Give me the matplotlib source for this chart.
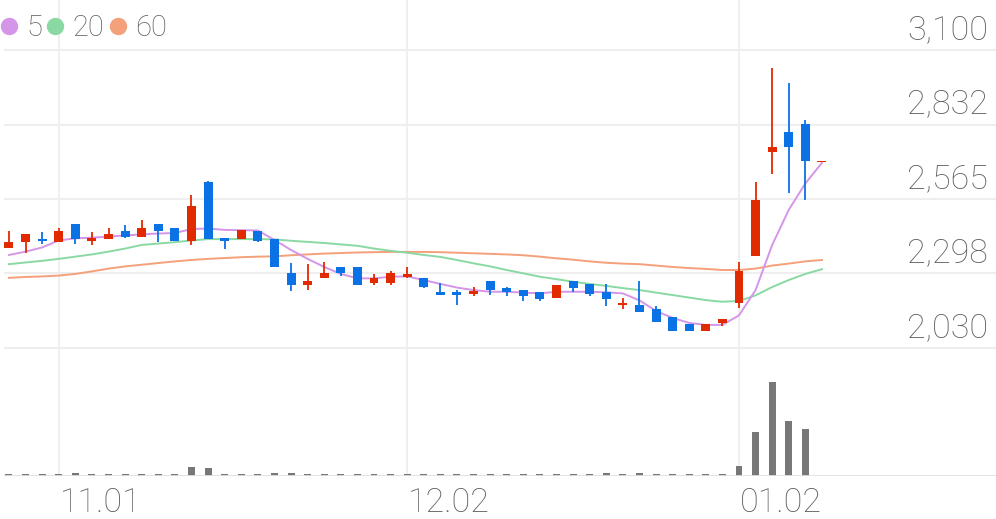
import numpy as np
import matplotlib
matplotlib.use("Agg")
import matplotlib.pyplot as plt
from matplotlib.lines import Line2D
from matplotlib.transforms import blended_transform_factory

plt.rcParams["font.family"] = ["Roboto", "DejaVu Sans"]

# daily candles, oldest first
opens = [2390, 2410, 2420, 2410, 2475, 2415, 2420, 2450, 2430, 2475,
         2460, 2415, 2625, 2425, 2420, 2450, 2420, 2300, 2255, 2280,
         2320, 2320, 2265, 2265, 2285, 2280, 2230, 2230, 2225, 2270,
         2245, 2240, 2230, 2210, 2270, 2260, 2230, 2185, 2185, 2170,
         2140, 2115, 2090, 2120, 2190, 2360, 2735, 2805, 2835, 2700]
highs = [2450, 2440, 2445, 2460, 2475, 2445, 2460, 2470, 2490, 2475,
         2460, 2580, 2630, 2425, 2455, 2450, 2420, 2335, 2330, 2340,
         2320, 2320, 2295, 2305, 2320, 2280, 2265, 2240, 2250, 2270,
         2250, 2240, 2230, 2255, 2270, 2260, 2260, 2210, 2270, 2180,
         2140, 2115, 2115, 2135, 2340, 2625, 3035, 2980, 2850, 2700]
lows = [2390, 2370, 2405, 2410, 2405, 2400, 2420, 2425, 2430, 2410,
        2415, 2400, 2420, 2385, 2420, 2410, 2320, 2235, 2240, 2280,
        2290, 2255, 2255, 2255, 2280, 2245, 2220, 2185, 2215, 2220,
        2215, 2200, 2200, 2210, 2230, 2215, 2180, 2170, 2160, 2125,
        2090, 2090, 2090, 2110, 2175, 2360, 2655, 2585, 2560, 2700]
closes = [2410, 2440, 2415, 2450, 2420, 2425, 2440, 2430, 2460, 2450,
          2415, 2540, 2420, 2415, 2455, 2415, 2320, 2255, 2270, 2300,
          2300, 2255, 2280, 2300, 2295, 2250, 2220, 2220, 2235, 2240,
          2230, 2215, 2205, 2255, 2245, 2225, 2205, 2190, 2160, 2125,
          2090, 2090, 2115, 2135, 2305, 2560, 2750, 2750, 2700, 2700]
volumes = [180, 180, 180, 180, 280, 180, 180, 180, 180, 180,
           180, 850, 750, 180, 180, 180, 220, 280, 180, 180,
           180, 180, 180, 180, 180, 180, 180, 180, 180, 180,
           180, 180, 180, 180, 180, 180, 220, 180, 280, 180,
           180, 180, 180, 180, 980, 4380, 9400, 5480, 4650, 0]

ma5 = [2364, 2376, 2391, 2416, 2424, 2426, 2430, 2434, 2438, 2441,
       2443, 2457, 2459, 2454, 2453, 2452, 2418, 2382, 2350, 2321,
       2296, 2280, 2280, 2286, 2287, 2274, 2260, 2247, 2238, 2232,
       2232, 2229, 2226, 2232, 2232, 2232, 2230, 2226, 2201, 2163,
       2138, 2120, 2113, 2113, 2147, 2238, 2400, 2526, 2621, 2695]
ma20 = [2331, 2337, 2343, 2350, 2358, 2366, 2376, 2387, 2400, 2405,
        2410, 2416, 2421, 2421, 2421, 2421, 2420, 2415, 2411, 2407,
        2402, 2397, 2387, 2379, 2372, 2364, 2357, 2346, 2334, 2323,
        2310, 2298, 2286, 2277, 2268, 2260, 2253, 2245, 2238, 2229,
        2220, 2211, 2202, 2196, 2199, 2219, 2249, 2274, 2296, 2313]
ma60 = [2282, 2285, 2287, 2290, 2296, 2305, 2315, 2323, 2329, 2335,
        2341, 2346, 2350, 2353, 2356, 2358, 2359, 2363, 2366, 2369,
        2371, 2373, 2374, 2375, 2375, 2375, 2374, 2372, 2370, 2368,
        2366, 2363, 2358, 2352, 2347, 2341, 2336, 2333, 2331, 2326,
        2321, 2317, 2314, 2310, 2310, 2315, 2326, 2333, 2341, 2346]

price_levels = [2030, 2298, 2565, 2832, 3100]
date_pos = [3, 24, 44]
date_labels = ["11.01", "12.02", "01.02"]

RED = "#e12a00"
BLUE = "#0b72e6"
C5, C20, C60 = "#d595e8", "#8ad9a3", "#f4a07a"
TXT = "#606060"
GRID = "#eeeeee"

W, H = 996, 519
fig = plt.figure(figsize=(W / 100, H / 100), dpi=100)
ax = fig.add_axes([4 / W, (H - 350) / H, 992 / W, 350 / H])
axv = fig.add_axes([4 / W, (H - 475.5) / H, 992 / W, 125.5 / H])

x = np.arange(len(opens))
o = np.array(opens, float)
c = np.array(closes, float)
up = c >= o
colors = np.where(up, RED, BLUE)

xmin, xmax = -0.30, 59.49
for a in (ax, axv):
    a.set_xlim(xmin, xmax)
    a.axis("off")
    for p in date_pos:
        a.axvline(p, color=GRID, lw=1.3, zorder=0)

ax.set_ylim(2022.8, 3279.5)
for lv in price_levels:
    ax.axhline(lv, color=GRID, lw=1.5, zorder=0)
    ax.annotate(f"{lv:,}", xy=(1, lv), xycoords=("axes fraction", "data"),
                xytext=(-8, 11), textcoords="offset pixels", ha="right",
                va="baseline", fontsize=24.5, color=TXT, fontweight="light")

# moving averages
ax.plot(x, ma60, color=C60, lw=1.4, zorder=2)
ax.plot(x, ma20, color=C20, lw=1.4, zorder=2)
ax.plot(x, ma5, color=C5, lw=1.4, zorder=2)

# candles
ax.vlines(x, lows, highs, colors=colors, lw=1.3, zorder=3)
body = np.maximum(np.abs(c - o), 6)
bottom = np.minimum(o, c)
bottom = np.where(np.abs(c - o) < 6, (o + c) / 2 - 3, bottom)
ax.bar(x, body, bottom=bottom, width=0.54, color=colors, zorder=4)

# volume
axv.set_ylim(0, 12550)
axv.bar(x, volumes, width=0.42, color="#777777", zorder=2)
axv.axhline(0, color="#e0e0e0", lw=2, zorder=3)
tr = blended_transform_factory(axv.transData, axv.transAxes)
for p, lab in zip(date_pos, date_labels):
    axv.text(p + 0.05, -0.29, lab, transform=tr, ha="left", va="baseline",
             fontsize=24.5, color=TXT, fontweight="light")

handles = [Line2D([], [], ls="none", marker="o", ms=11.5, color=col)
           for col in (C5, C20, C60)]
fig.legend(handles, ["5", "20", "60"], loc="upper left",
           bbox_to_anchor=(0.0, 0.973), ncol=3, frameon=False,
           borderpad=0, borderaxespad=0,
           handlelength=0.6, handletextpad=0.3, columnspacing=0.15,
           prop={"size": 21, "weight": "light"}, labelcolor=TXT)

fig.savefig("out.png", dpi=100)
